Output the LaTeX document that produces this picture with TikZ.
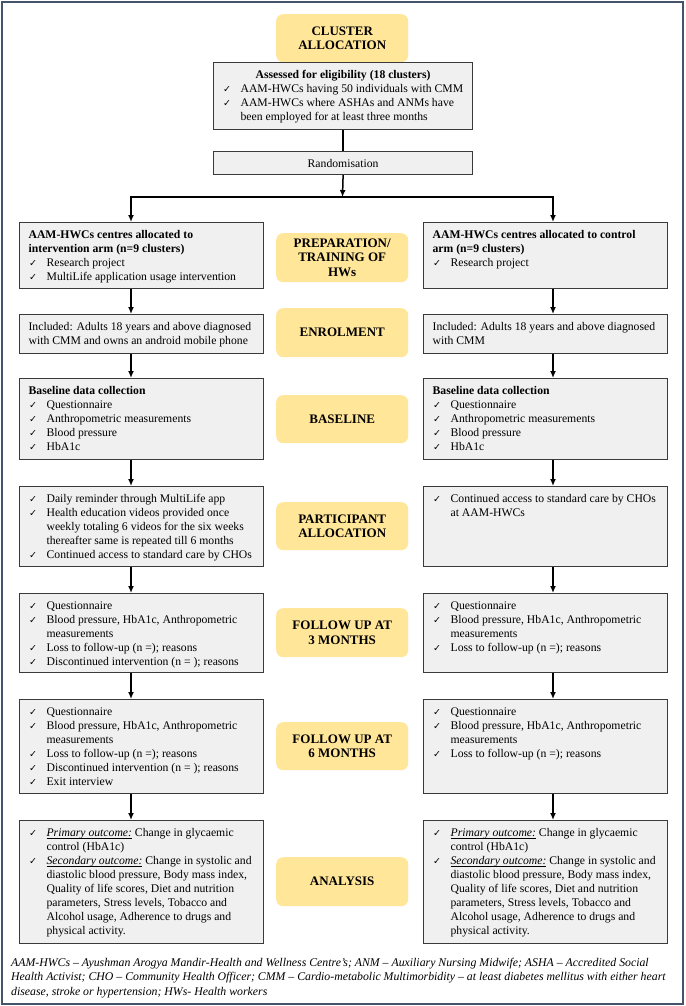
\documentclass[tikz,border=0pt]{standalone}
\usepackage{fontspec}
\setmainfont{Liberation Serif}
\newfontfamily\dejavu{DejaVu Sans}
\usetikzlibrary{arrows.meta}
\definecolor{framecol}{HTML}{44546A}
\definecolor{boxfill}{HTML}{F0F0F0}
\definecolor{boxline}{HTML}{3A3A3A}
\definecolor{yel}{HTML}{FFE699}
\newsavebox\ulbox
\newcommand\myul[1]{\sbox\ulbox{#1}\rlap{\rule[-1.6pt]{\wd\ulbox}{0.6pt}}\usebox\ulbox}
\newcommand\bodyfont{\fontsize{11.7}{14}\selectfont}
\newcommand\yfont{\fontsize{13}{14.7}\selectfont\bfseries}
\newcommand\ckm{\makebox[18pt][l]{\hspace{0.5pt}{\dejavu\fontsize{9.5}{10}\selectfont ✓}}}
\newcommand\itm[1]{\par\hangindent=18pt\hangafter=1\noindent\strut\ckm#1\par}
\newcommand\hd[1]{\par\noindent\strut\textbf{#1}\par}
\newcommand\txt[1]{\par\noindent\strut#1\par}
\newcommand\bxc[2]{\parbox[t][#1][t]{226pt}{\raggedright #2}}
\begin{document}
\begin{tikzpicture}[x=1pt,y=-1pt,
  gbox/.style={draw=boxline, fill=boxfill, line width=1.2pt, inner xsep=9pt, inner ysep=6.2pt, anchor=north west, font=\bodyfont},
  ybox/.style={fill=yel, rounded corners=7pt, minimum width=132pt, anchor=north west, align=center, font=\yfont, inner sep=0pt},
  conn/.style={line width=1.5pt, black},
  arr/.style={conn, -{Latex[length=7pt,width=6pt]}},
  arrboth/.style={conn, {Latex[length=7pt,width=6pt]}-{Latex[length=7pt,width=6pt]}}]
\useasboundingbox (0,0) rectangle (685,1006);
\fill[white] (0,0) rectangle (685,1006);
\draw[framecol, line width=2.5pt] (2,2) rectangle (683,1004);

% top part
\node[ybox, minimum height=48pt] (clu) at (276,14) {CLUSTER\\ALLOCATION};
\node[gbox] (ass) at (213,62) {\parbox[t][54.6pt][t]{241pt}{\centering\strut\textbf{Assessed for eligibility (18 clusters)}\par\raggedright
  \itm{AAM-HWCs having 50 individuals with CMM}
  \itm{AAM-HWCs where ASHAs and ANMs have\newline been employed for at least three months}}};
\node[gbox, inner ysep=0pt, minimum width=259pt, minimum height=23pt] (rand) at (213,151) {Randomisation};

% yellow stage labels
\node[ybox, minimum height=49pt] (y1) at (276,233) {PREPARATION/\\TRAINING OF\\HWs};
\node[ybox, minimum height=49pt] (y2) at (276,308) {ENROLMENT};
\node[ybox, minimum height=48pt] (y3) at (276,395) {BASELINE};
\node[ybox, minimum height=48pt] (y4) at (276,502) {PARTICIPANT\\ALLOCATION};
\node[ybox, minimum height=49pt] (y5) at (276,608) {FOLLOW UP AT\\3 MONTHS};
\node[ybox, minimum height=48pt] (y6) at (276,722) {FOLLOW UP AT\\6 MONTHS};
\node[ybox, minimum height=49pt] (y7) at (276,857) {ANALYSIS};

% left column
\node[gbox] (L1) at (19,222) {\bxc{53.6pt}{\hd{AAM-HWCs centres allocated to\newline intervention arm (n=9 clusters)}
  \itm{Research project}\itm{MultiLife application usage intervention}}};
\node[gbox] (L2) at (19,314) {\bxc{26.6pt}{\txt{Included: Adults 18 years and above diagnosed\newline with CMM and owns an android mobile phone}}};
\node[gbox] (L3) at (19,378) {\bxc{68.6pt}{\hd{Baseline data collection}
  \itm{Questionnaire}\itm{Anthropometric measurements}\itm{Blood pressure}\itm{HbA1c}}};
\node[gbox] (L4) at (19,486) {\bxc{67.6pt}{\itm{Daily reminder through MultiLife app}
  \itm{Health education videos provided once\newline weekly totaling 6 videos for the six weeks\newline thereafter same is repeated till 6 months}
  \itm{Continued access to standard care by CHOs}}};
\node[gbox] (L5) at (19,593) {\bxc{66.6pt}{\itm{Questionnaire}
  \itm{Blood pressure, HbA1c, Anthropometric\newline measurements}
  \itm{Loss to follow-up (n =); reasons}
  \itm{Discontinued intervention (n = ); reasons}}};
\node[gbox] (L6) at (19,699) {\bxc{81.6pt}{\itm{Questionnaire}
  \itm{Blood pressure, HbA1c, Anthropometric\newline measurements}
  \itm{Loss to follow-up (n =); reasons}
  \itm{Discontinued intervention (n = ); reasons}
  \itm{Exit interview}}};
\node[gbox] (L7) at (19,820) {\bxc{110.6pt}{\itm{\myul{\textit{Primary outcome:}} Change in glycaemic\newline control (HbA1c)}
  \itm{\myul{\textit{Secondary outcome:}} Change in systolic and\newline diastolic blood pressure, Body mass index,\newline Quality of life scores, Diet and nutrition\newline parameters, Stress levels, Tobacco and\newline Alcohol usage, Adherence to drugs and\newline physical activity.}}};

% right column
\node[gbox] (R1) at (423,222) {\bxc{53.6pt}{\hd{AAM-HWCs centres allocated to control\newline arm (n=9 clusters)}
  \itm{Research project}}};
\node[gbox] (R2) at (423,314) {\bxc{26.6pt}{\txt{Included: Adults 18 years and above diagnosed\newline with CMM}}};
\node[gbox] (R3) at (423,378) {\bxc{68.6pt}{\hd{Baseline data collection}
  \itm{Questionnaire}\itm{Anthropometric measurements}\itm{Blood pressure}\itm{HbA1c}}};
\node[gbox] (R4) at (423,486) {\bxc{67.6pt}{\itm{Continued access to standard care by CHOs\newline at AAM-HWCs}}};
\node[gbox] (R5) at (423,593) {\bxc{66.6pt}{\itm{Questionnaire}
  \itm{Blood pressure, HbA1c, Anthropometric\newline measurements}
  \itm{Loss to follow-up (n =); reasons}}};
\node[gbox] (R6) at (423,699) {\bxc{81.6pt}{\itm{Questionnaire}
  \itm{Blood pressure, HbA1c, Anthropometric\newline measurements}
  \itm{Loss to follow-up (n =); reasons}}};
\node[gbox] (R7) at (423,820) {\bxc{110.6pt}{\itm{\myul{\textit{Primary outcome:}} Change in glycaemic\newline control (HbA1c)}
  \itm{\myul{\textit{Secondary outcome:}} Change in systolic and\newline diastolic blood pressure, Body mass index,\newline Quality of life scores, Diet and nutrition\newline parameters, Stress levels, Tobacco and\newline Alcohol usage, Adherence to drugs and\newline physical activity.}}};

% footer
\node[anchor=north west, align=left, inner sep=0pt, font=\fontsize{11.8}{14.5}\selectfont\itshape] (foot) at (11,957.5)
  {AAM-HWCs – Ayushman Arogya Mandir-Health and Wellness Centre’s; ANM – Auxiliary Nursing Midwife; ASHA – Accredited Social\\
   Health Activist; CHO – Community Health Officer; CMM – Cardio-metabolic Multimorbidity – at least diabetes mellitus with either heart\\
   disease, stroke or hypertension; HWs- Health workers};

% connectors
\coordinate (axL) at (131,0);
\coordinate (axR) at (553,0);
\coordinate (split) at (342.5,197);
\draw[conn] (ass) -- (rand);
\draw[arr] (rand.south) -- (split);
\draw[arrboth] (L1.north -| axL) |- (split) -| (R1.north -| axR);
\foreach \a/\b in {1/2,2/3,3/4,4/5,5/6,6/7}{
  \draw[arr] (L\a.south -| axL) -- (L\b.north -| axL);
  \draw[arr] (R\a.south -| axR) -- (R\b.north -| axR);
}
\end{tikzpicture}
\end{document}
